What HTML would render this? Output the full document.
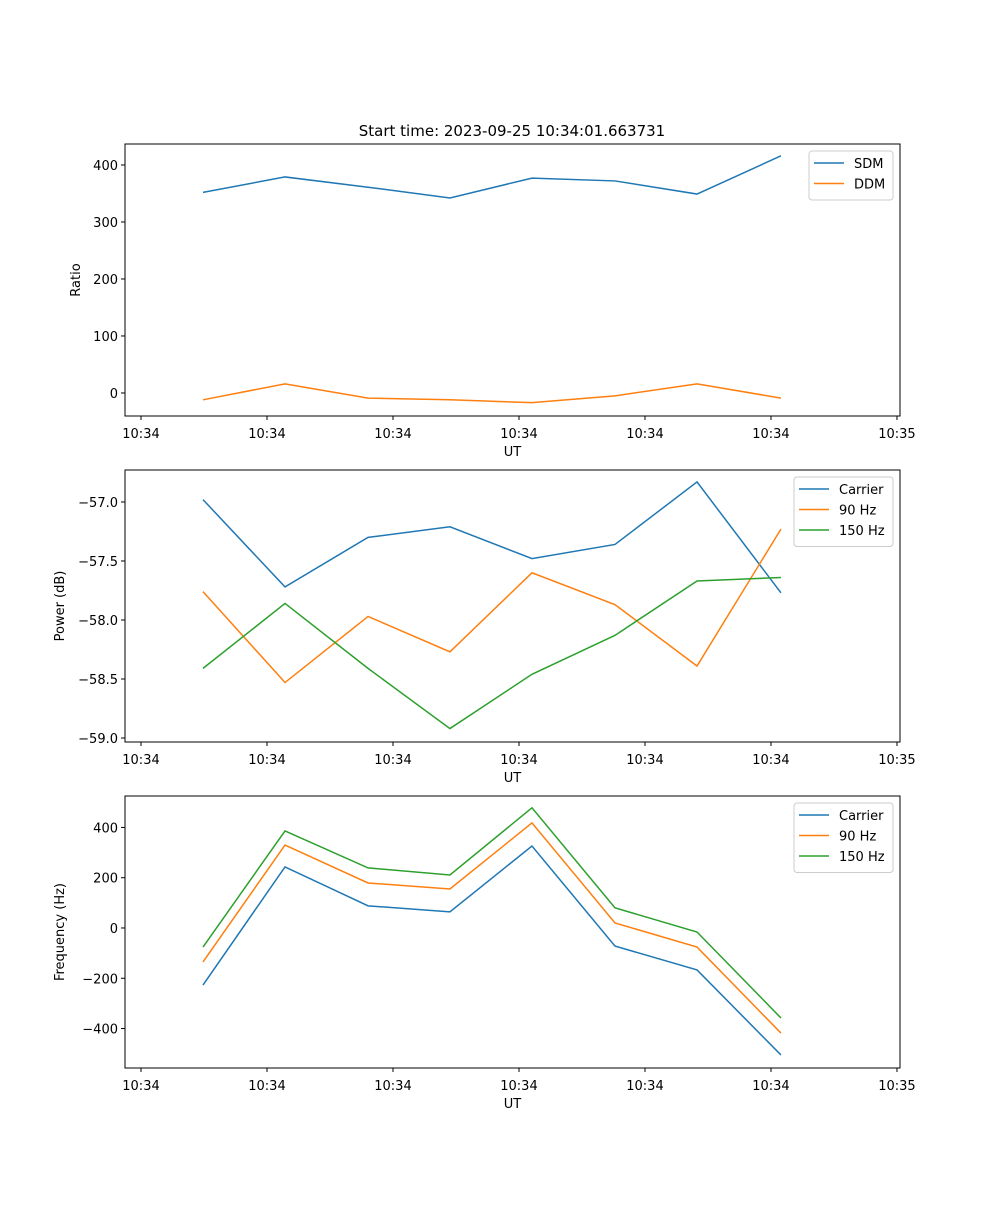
<!DOCTYPE html>
<html><head><meta charset="utf-8"><style>
html,body{margin:0;padding:0;background:#fff;}
svg text{font-family:"DejaVu Sans","Liberation Sans",sans-serif;font-size:13px;fill:#000;}
</style></head><body>
<svg id="fig" width="1000" height="1200" xmlns="http://www.w3.org/2000/svg">
<rect width="1000" height="1200" fill="#fff"/>
<text x="512" y="136" text-anchor="middle" style="font-size:15px">Start time: 2023-09-25 10:34:01.663731</text>
</svg>
<script>
const xTickLabels = ["10:34","10:34","10:34","10:34","10:34","10:34","10:35"];
const xTickValues = [0,1,2,3,4,5,6];
const times = [0.492,1.143,1.802,2.452,3.103,3.762,4.413,5.079];
const sdm = [352,379,361,342,377,372,349,416];
const ddm = [-12,16,-9,-12,-17,-5,16,-9];
const powCarrier = [-56.98,-57.72,-57.30,-57.21,-57.48,-57.36,-56.83,-57.77];
const pow90 = [-57.76,-58.53,-57.97,-58.27,-57.60,-57.87,-58.39,-57.23];
const pow150 = [-58.41,-57.86,-58.41,-58.92,-58.46,-58.13,-57.67,-57.64];
const freqCarrier = [-227,243,88,64,326,-72,-167,-505];
const freq90 = [-135,330,179,155,418,20,-76,-418];
const freq150 = [-76,386,239,211,478,80,-16,-358];
const ratioTicks = [0,100,200,300,400];
const powerTicks = [-57.0,-57.5,-58.0,-58.5,-59.0];
const freqTicks = [400,200,0,-200,-400];

const NS="http://www.w3.org/2000/svg";
const svg=document.getElementById('fig');
const C=['#1f77b4','#ff7f0e','#2ca02c'];
function mk(tag,attrs,parent){const e=document.createElementNS(NS,tag);for(const k in attrs)e.setAttribute(k,attrs[k]);(parent||svg).appendChild(e);return e;}
const L=125,R=900,xmin=-0.127,xmax=6.024;
const X=v=>L+(v-xmin)/(xmax-xmin)*(R-L);

function panel(name,top,bot,ymin,ymax,ticks,fmt,ylabel,ylx,series,names,legend){
  const g=mk('g',{});
  
  
  const Y=v=>bot-(v-ymin)/(ymax-ymin)*(bot-top);
  series.forEach((s,i)=>{
    const p=mk('polyline',{points:s.map((v,j)=>X(times[j])+','+Y(v)).join(' '),fill:'none',stroke:C[i],'stroke-width':1.5},g);
    
    
  });
  const ax=mk('rect',{x:L,y:top,width:R-L,height:bot-top,fill:'none',stroke:'#000','stroke-width':1},g);
  
  
  xTickValues.forEach((v,i)=>{
    mk('line',{x1:X(v),x2:X(v),y1:bot,y2:bot+4,stroke:'#000'},g);
    const t=mk('text',{x:X(v),y:bot+22,'text-anchor':'middle'},g);
    
    
    t.textContent=xTickLabels[i];
  });
  ticks.forEach(v=>{
    mk('line',{x1:L-4,x2:L,y1:Y(v),y2:Y(v),stroke:'#000'},g);
    const t=mk('text',{x:L-7,y:Y(v)+5,'text-anchor':'end'},g);
    
    
    t.textContent=fmt(v);
  });
  const xl=mk('text',{x:(L+R)/2,y:bot+40,'text-anchor':'middle'},g);
  
  
  xl.textContent='UT';
  const yl=mk('text',{x:ylx,y:(top+bot)/2,'text-anchor':'middle',transform:`rotate(-90 ${ylx} ${(top+bot)/2})`},g);
  
  
  yl.textContent=ylabel;
  const lg=mk('g',{},g);
  
  
  mk('rect',{x:legend[0],y:top+7,width:893-legend[0],height:names.length*20.5+8,rx:3,fill:'#fff',stroke:'#ccc','fill-opacity':0.8},lg);
  names.forEach((n,i)=>{
    const yy=top+19+i*20.5;
    mk('line',{x1:legend[0]+5,x2:legend[0]+35,y1:yy,y2:yy,stroke:C[i],'stroke-width':1.5},lg);
    const t=mk('text',{x:legend[0]+45,y:yy+5},lg);
    
    
    t.textContent=n;
  });
}
const d0=v=>v<0?'\u2212'+Math.abs(v):String(v);
const d1=v=>'\u2212'+Math.abs(v).toFixed(1);
panel('ratio',144,416,-40.4,436.8,ratioTicks,d0,'Ratio',80,[sdm,ddm],['SDM','DDM'],[809]);
panel('power',470,742,-59.034,-56.729,powerTicks,d1,'Power (dB)',64,[powCarrier,pow90,pow150],['Carrier','90 Hz','150 Hz'],[794]);
panel('frequency',796,1068,-557,525,freqTicks,d0,'Frequency (Hz)',64,[freqCarrier,freq90,freq150],['Carrier','90 Hz','150 Hz'],[794]);
</script>
</body></html>
